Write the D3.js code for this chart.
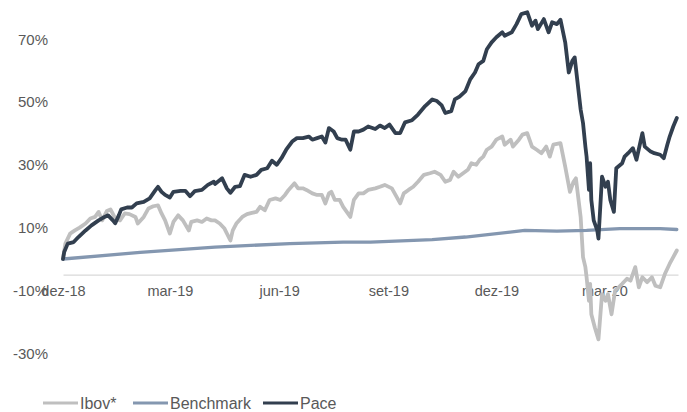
<!DOCTYPE html>
<meta charset="utf-8">
<style>
  body { margin: 0; background: #fff; }
  svg text { font-family: "Liberation Sans", Arial, sans-serif; fill: #595959; }
  .eixo-x .domain { stroke: #d9d9d9; stroke-width: 1.3; }
  .linha { fill: none; stroke-linejoin: round; stroke-linecap: round; }
</style>

<svg width="687" height="412"></svg>

<script src="https://d3js.org/d3.v7.min.js"></script>

<script>

// Pace
var paceDatas = ["2018-12-28","2018-12-29","2019-01-01","2019-01-06","2019-01-10","2019-01-16","2019-01-21","2019-01-27","2019-02-01","2019-02-04",
  "2019-02-08","2019-02-10","2019-02-13","2019-02-15","2019-02-20","2019-02-24","2019-02-28","2019-03-06","2019-03-11","2019-03-16",
  "2019-03-18","2019-03-21","2019-03-24","2019-03-28","2019-03-31","2019-04-06","2019-04-10","2019-04-14","2019-04-18","2019-04-24",
  "2019-04-29","2019-05-04","2019-05-05","2019-05-11","2019-05-15","2019-05-18","2019-05-22","2019-05-26","2019-05-30","2019-06-04",
  "2019-06-09","2019-06-13","2019-06-18","2019-06-22","2019-06-26","2019-06-30","2019-07-04","2019-07-09","2019-07-13","2019-07-18",
  "2019-07-23","2019-07-26","2019-07-30","2019-08-03","2019-08-06","2019-08-09","2019-08-13","2019-08-16","2019-08-20","2019-08-23",
  "2019-08-27","2019-08-30","2019-09-03","2019-09-07","2019-09-11","2019-09-17","2019-09-21","2019-09-25","2019-09-29","2019-10-04",
  "2019-10-08","2019-10-12","2019-10-18","2019-10-23","2019-10-29","2019-11-04","2019-11-08","2019-11-12","2019-11-15","2019-11-20",
  "2019-11-23","2019-11-27","2019-12-02","2019-12-06","2019-12-10","2019-12-13","2019-12-17","2019-12-20","2019-12-24","2019-12-28",
  "2020-01-02","2020-01-04","2020-01-10","2020-01-14","2020-01-18","2020-01-23","2020-01-27","2020-01-30","2020-02-01","2020-02-06",
  "2020-02-10","2020-02-13","2020-02-17","2020-02-20","2020-02-24","2020-02-27","2020-03-01","2020-03-03","2020-03-08","2020-03-10",
  "2020-03-12","2020-03-13","2020-03-15","2020-03-16","2020-03-17","2020-03-19","2020-03-22","2020-03-23","2020-03-26","2020-03-29",
  "2020-03-31","2020-04-02","2020-04-05","2020-04-07","2020-04-12","2020-04-14","2020-04-17","2020-04-21","2020-04-24","2020-04-29",
  "2020-05-01","2020-05-06","2020-05-09","2020-05-14","2020-05-17","2020-05-20","2020-05-22","2020-05-25","2020-05-28"];
var paceValores = [0,2.2,4.9,5.4,7.0,9.1,10.7,12.3,13.4,13.9,
  12.3,11.4,13.9,15.8,16.4,16.4,17.7,18.2,19.3,22.0,
  23.0,21.4,20.4,19.6,21.4,21.7,21.7,20.0,21.6,22.0,
  23.6,24.6,23.9,25.7,22.5,21.1,23.0,23.2,26.8,26.2,
  26.8,28.4,28.9,31.3,30.0,32.1,34.8,37.4,38.5,38.5,
  39.0,38.0,38.5,39.0,37.1,41.7,40.6,38.5,38.0,38.0,
  34.8,40.6,40.6,41.2,42.2,41.4,42.5,41.7,42.8,40.1,
  40.1,43.5,44.2,46.0,48.7,50.8,50.3,48.9,46.5,47.1,
  50.8,51.7,53.5,57.2,59.4,62.0,63.1,66.8,69.0,70.6,
  72.2,71.1,72.2,74.8,78.0,78.6,74.3,75.9,73.2,76.4,
  72.2,75.4,74.8,76.2,69.0,59.4,63.1,64.2,47.6,43.3,
  35.8,32.6,22.0,30.5,18.8,12.3,9.1,6.5,26.2,23.0,
  24.6,18.8,15.0,28.9,30.5,32.6,33.7,35.3,31.6,40.1,
  35.8,34.2,33.7,33.2,32.1,36.4,39.0,42.2,44.9];

// Ibov*
var ibovDatas = ["2018-12-28","2018-12-30","2019-01-03","2019-01-07","2019-01-11","2019-01-16","2019-01-20","2019-01-24","2019-01-27","2019-01-30",
  "2019-02-03","2019-02-06","2019-02-10","2019-02-14","2019-02-18","2019-02-22","2019-02-27","2019-03-01","2019-03-06","2019-03-10",
  "2019-03-14","2019-03-18","2019-03-21","2019-03-24","2019-03-28","2019-03-31","2019-04-04","2019-04-08","2019-04-13","2019-04-15",
  "2019-04-20","2019-04-24","2019-04-28","2019-05-02","2019-05-05","2019-05-09","2019-05-13","2019-05-18","2019-05-20","2019-05-23",
  "2019-05-28","2019-06-01","2019-06-05","2019-06-09","2019-06-12","2019-06-16","2019-06-20","2019-06-25","2019-06-29","2019-07-03",
  "2019-07-06","2019-07-11","2019-07-14","2019-07-18","2019-07-21","2019-07-26","2019-07-30","2019-08-03","2019-08-06","2019-08-09",
  "2019-08-11","2019-08-14","2019-08-18","2019-08-21","2019-08-24","2019-08-27","2019-08-30","2019-09-03","2019-09-07","2019-09-11",
  "2019-09-17","2019-09-21","2019-09-25","2019-10-01","2019-10-05","2019-10-08","2019-10-11","2019-10-15","2019-10-19","2019-10-23",
  "2019-10-28","2019-11-02","2019-11-06","2019-11-11","2019-11-15","2019-11-19","2019-11-22","2019-11-26","2019-11-30","2019-12-04",
  "2019-12-07","2019-12-11","2019-12-14","2019-12-17","2019-12-20","2019-12-24","2019-12-28","2020-01-02","2020-01-04","2020-01-09",
  "2020-01-11","2020-01-16","2020-01-19","2020-01-23","2020-01-27","2020-01-31","2020-02-04","2020-02-08","2020-02-11","2020-02-14",
  "2020-02-20","2020-02-24","2020-02-28","2020-03-02","2020-03-04","2020-03-08","2020-03-10","2020-03-12","2020-03-13","2020-03-15",
  "2020-03-16","2020-03-17","2020-03-20","2020-03-23","2020-03-26","2020-03-29","2020-03-31","2020-04-03","2020-04-06","2020-04-09",
  "2020-04-12","2020-04-16","2020-04-19","2020-04-23","2020-04-26","2020-04-29","2020-05-03","2020-05-07","2020-05-10","2020-05-14",
  "2020-05-18","2020-05-22","2020-05-25","2020-05-28"];
var ibovValores = [0,4.9,8.1,9.1,10.0,11.3,12.9,13.4,15.0,12.3,
  15.3,15.8,12.9,12.3,14.5,14.3,13.4,11.3,13.4,16.1,
  16.8,17.1,14.5,12.3,8.1,11.8,13.9,12.3,9.1,11.8,
  12.3,11.8,12.9,12.3,12.3,11.3,9.7,5.9,9.1,11.3,
  13.4,14.3,14.7,15.0,16.6,15.5,18.8,19.3,18.8,20.4,
  22.0,24.1,22.5,22.5,22.0,20.9,20.4,20.4,17.7,20.9,
  21.4,18.8,18.8,16.6,15.0,13.4,18.8,20.9,20.9,22.0,
  22.5,23.0,23.6,22.5,19.8,17.7,20.9,22.0,23.0,24.6,
  26.8,27.3,27.8,26.8,24.6,25.2,27.8,26.2,27.3,28.4,
  30.5,30.0,31.6,32.6,34.8,35.8,38.0,39.0,36.4,38.0,
  35.8,38.0,39.6,40.1,35.8,34.8,33.7,35.8,32.6,36.4,
  36.9,29.4,21.4,24.6,25.7,13.4,0.6,-2.6,-5.8,-13.3,
  -7.9,-17.6,-21.9,-25.6,-11.2,-13.3,-11.2,-17.6,-10.1,-9.0,
  -7.9,-6.3,-6.9,-2.6,-9.0,-5.8,-7.4,-5.8,-8.5,-9.0,
  -4.7,-1.5,0.6,2.7];

// Benchmark
var benchDatas = ["2018-12-28","2019-03-03","2019-05-05","2019-07-07","2019-08-21","2019-09-13","2019-11-04","2019-12-02",
  "2020-01-21","2020-02-17","2020-03-13","2020-04-10","2020-05-14","2020-05-28"];
var benchValores = [0,2.1,3.8,4.9,5.4,5.4,6.2,7.0,9.1,8.9,9.1,9.7,9.7,9.4];

var yTicks = [70, 50, 30, 10, -10, -30];
var xTickDatas = ["2018-12-28","2019-03-28","2019-06-28","2019-09-28","2019-12-28","2020-03-28"];
var xTickRotulos = ["dez-18","mar-19","jun-19","set-19","dez-19","mar-20"];

var series = [
  { nome: "Ibov*", cor: "#bfbfbf", largura: 3.8, datas: ibovDatas, valores: ibovValores },
  { nome: "Benchmark", cor: "#8497b0", largura: 3.3, datas: benchDatas, valores: benchValores },
  { nome: "Pace", cor: "#323f4f", largura: 3.8, datas: paceDatas, valores: paceValores }
];

var parse = d3.timeParse("%Y-%m-%d");

var svg = d3.select("svg");

var x = d3.scaleTime()
    .domain([parse("2018-12-28"), parse("2020-05-29")])
    .range([63, 678]);

var y = d3.scaleLinear()
    .domain([-40, 80])
    .range([384.6, 7.8]);

// eixo x cruza em -5%
svg.append("g")
    .attr("class", "eixo-x")
    .attr("transform", "translate(0," + y(-5) + ")")
    .call(d3.axisBottom(x)
      .tickValues(xTickDatas.map(parse))
      .tickSize(0)
      .tickPadding(11)
      .tickFormat(function(d, i) { return xTickRotulos[i]; }))
  .selectAll("text")
    .attr("font-size", 14.5)
    .attr("fill", "#595959");

var gy = svg.append("g")
    .attr("transform", "translate(48,0)")
    .call(d3.axisLeft(y)
      .tickValues(yTicks)
      .tickSize(0)
      .tickPadding(0)
      .tickFormat(function(d) { return d + "%"; }));
gy.select(".domain").remove();
gy.selectAll("text").attr("font-size", 15).attr("fill", "#595959");

var line = d3.line()
    .x(function(d) { return x(d[0]); })
    .y(function(d) { return y(d[1]); });

series.forEach(function(s) {
  var pts = s.datas.map(function(d, i) { return [parse(d), s.valores[i]]; });
  svg.append("path")
      .datum(pts)
      .attr("class", "linha")
      .attr("stroke", s.cor)
      .attr("stroke-width", s.largura)
      .attr("d", line);
});

// legenda
var legX = [43, 133, 263];
var leg = svg.append("g").attr("transform", "translate(0,403)");
series.forEach(function(s, i) {
  leg.append("line")
      .attr("x1", legX[i]).attr("x2", legX[i] + 35)
      .attr("y1", 0).attr("y2", 0)
      .attr("stroke", s.cor)
      .attr("stroke-width", 3);
  leg.append("text")
      .attr("x", legX[i] + 37)
      .attr("y", 0)
      .attr("dy", "0.35em")
      .attr("font-size", 16)
      .text(s.nome);
});

</script>
